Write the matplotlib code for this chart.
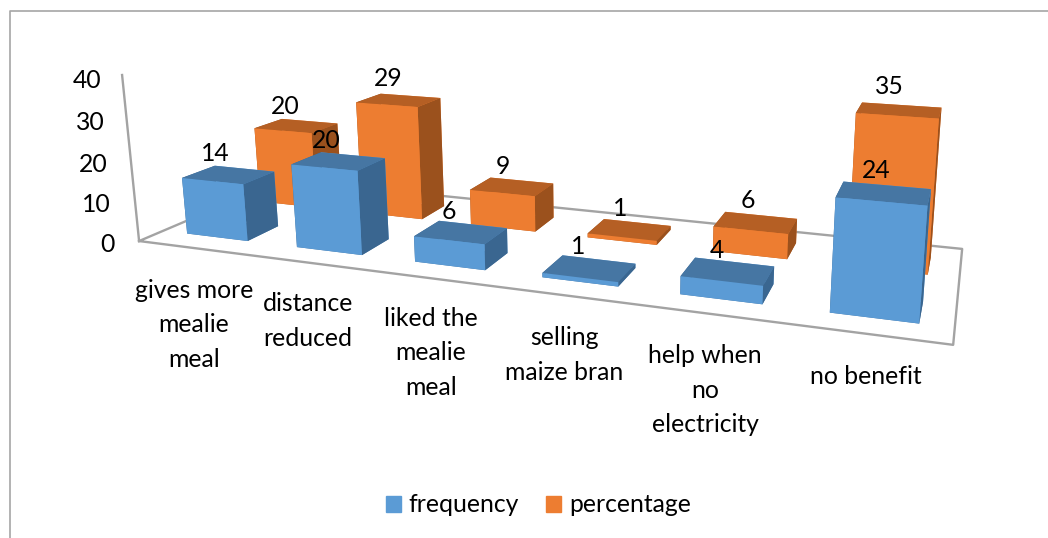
import numpy as np
import matplotlib
matplotlib.use("Agg")
import matplotlib.pyplot as plt
from matplotlib.lines import Line2D
from matplotlib.patches import Patch

plt.rcParams["font.family"] = ["Lato", "DejaVu Sans"]

# Chart data
categories = ["gives more\nmealie\nmeal", "distance\nreduced", "liked the\nmealie\nmeal",
              "selling\nmaize bran", "help when\nno\nelectricity", "no benefit"]
frequency = [14, 20, 6, 1, 4, 24]
percentage = [20, 29, 9, 1, 6, 35]
series_names = ["frequency", "percentage"]
z_ticks = [0, 10, 20, 30, 40]

# Colours per series: front, top, side
blue = ("#5B9BD5", "#4676A3", "#3A6690")
orange = ("#ED7D31", "#B55F24", "#9B511D")
GRID = "#A3A3A3"

W, H = 1048, 538
fig = plt.figure(figsize=(W / 100, H / 100), dpi=100, facecolor="white")

# Camera model; lengths are in units of the camera's height above the floor.
FLOOR_W, FLOOR_D, AXIS_H = 2.183, 0.674, 0.470
floor_origin = np.array([-2.197, 2.367, 0.0])   # front-left corner, camera foot at 0,0
camera = np.array([0.0, 0.0, 1.0])
view_dir = np.array([-0.3043, 0.9243, -0.2308])
ux, uy, uz = FLOOR_W / 6, FLOOR_D / 2, AXIS_H / 40
units = np.array([ux, uy, uz])
f_px, cx_px, cy_px = 1106.0, 622.0, 136.8
elev, azim, roll = 13.34, -71.78, -0.2
look = 3.0                      # camera to box centre

# Axes square large enough that nothing gets clipped
S = 1800.0
focal = f_px * 0.185 / S
to_box = 10 * focal / look      # box units per world unit

centre = (camera + look * view_dir - floor_origin) / units
half_world = np.array([1.2, 0.5, 0.3])
half_data = half_world / units

left = (cx_px - 0.095 / 0.185 * S) / W
bottom = (H - cy_px - 0.095 / 0.185 * S) / H
ax = fig.add_axes([left, bottom, S / W, S / H], projection="3d", computed_zorder=False)
ax.set_proj_type("persp", focal_length=focal)
ax.view_init(elev=elev, azim=azim, roll=roll)
ax.set_axis_off()
ax.patch.set_alpha(0)
aspect = 2 * half_world * to_box
ax.set_box_aspect(aspect, zoom=np.linalg.norm(aspect) / (1.8294640721620434 * 25 / 24))


def add_bars(values, row, colours, order):
    for i, v in enumerate(values):
        ax.bar3d(i + 0.225, row + 0.29, 0, 0.56, 0.42, v,
                 color=[colours[1], colours[1], colours[0], colours[0], colours[2], colours[2]],
                 shade=False, linewidth=0, zorder=order + i)


# Floor outline and value axis
ax.plot([0, 6, 6, 0, 0], [0, 0, 2, 2, 0], [0, 0, 0, 0, 0], color=GRID, lw=1.7, zorder=1)
ax.plot([0, 0], [0, 0], [z_ticks[0], z_ticks[-1]], color=GRID, lw=1.7, zorder=1)

add_bars(percentage, 1, orange, 10)
add_bars(frequency, 0, blue, 20)

ax.set_xlim3d(centre[0] - half_data[0], centre[0] + half_data[0])
ax.set_ylim3d(centre[1] - half_data[1], centre[1] + half_data[1])
ax.set_zlim3d(centre[2] - half_data[2], centre[2] + half_data[2])

# Text placed in figure pixels
FS = 17.8


def label(x, y, s, **kw):
    fig.text(x / W, 1 - y / H, s, fontsize=FS, color="#000000", va="center",
             ha=kw.pop("ha", "center"), **kw)


freq_pos = [(215, 154), (326, 140), (449, 212), (578, 246), (717, 250), (876, 171)]
perc_pos = [(285, 106), (388, 79), (503, 166), (620, 208), (748, 200), (889, 87)]
for v, p in zip(frequency, freq_pos):
    label(*p, str(v))
for v, p in zip(percentage, perc_pos):
    label(*p, str(v))

tick_pos = [(115, 244), (111, 204), (108, 164), (105, 123), (101, 81)]
for t, p in zip(z_ticks, tick_pos):
    label(*p, str(t), ha="right")

cat_pos = [(194, 325), (308, 321), (431, 353), (564, 355), (705, 390), (866, 376)]
for c, p in zip(categories, cat_pos):
    fig.text(p[0] / W, 1 - p[1] / H, c, fontsize=FS, ha="center", va="center",
             multialignment="center", linespacing=1.6, color="#000000")

# Legend
handles = [Patch(color=blue[0]), Patch(color=orange[0])]
fig.legend(handles, series_names, loc="center", bbox_to_anchor=(538.5 / W, 1 - 505 / H), ncol=2,
           frameon=False, fontsize=FS, handlelength=0.61, handleheight=0.61,
           handletextpad=0.3, columnspacing=1.1)

# Chart frame: left and top edges
fig.add_artist(Line2D([9.5 / W, 9.5 / W, 1], [0, 1 - 10.5 / H, 1 - 10.5 / H], color="#A6A6A6", lw=1.2))

fig.savefig("out.png", dpi=100)
